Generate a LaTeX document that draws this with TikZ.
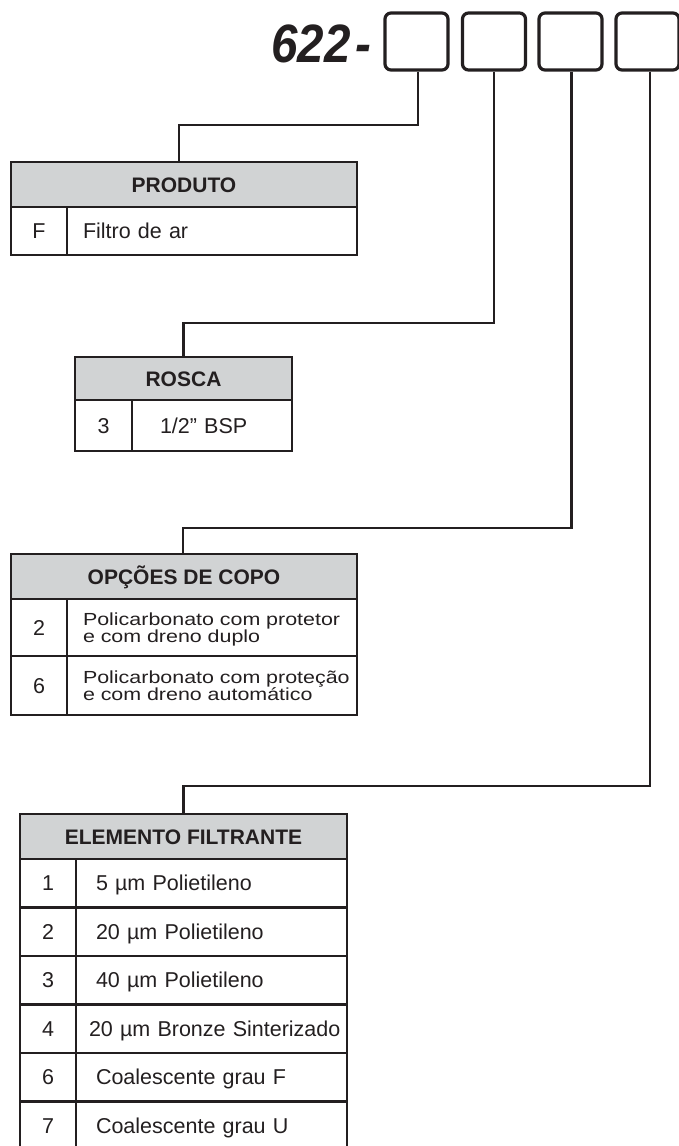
\documentclass[tikz,border=0pt]{standalone}
\usepackage{fontspec}
\setmainfont{Liberation Sans}
\newfontfamily\stretchfont[FakeStretch=1.225]{Liberation Sans}
\newfontfamily\codefont[FakeStretch=0.88]{Liberation Sans}
\definecolor{ink}{HTML}{231F20}
\definecolor{hdrgrey}{HTML}{D1D3D4}
\tikzset{
  tbl/.style={draw=ink, line width=2.6pt, rectangle, inner sep=0pt, outer sep=0pt, anchor=north west,
    text=ink, font=\fontsize{21.5}{24}\selectfont, text height=15.4pt, text depth=0pt},
  hdr/.style={tbl, fill=hdrgrey, font=\bfseries\fontsize{21}{24}\selectfont, text height=15pt},
  valcell/.style={tbl, align=left},
  twoline/.style={valcell, font=\stretchfont\fontsize{17.5}{17.5}\selectfont, text height=12.5pt, text depth=17.5pt},
  codebox/.style={draw=ink, line width=3.2pt, rounded corners=6pt, minimum width=63pt,
    minimum height=57pt, inner sep=0pt},
  link/.style={draw=ink, line width=2.2pt},
}
\begin{document}
\begin{tikzpicture}[x=1pt,y=-1pt]
\useasboundingbox (0,0) rectangle (678,1146);

% header code
\node[anchor=base west, inner sep=0pt, text=ink,
  font=\codefont\bfseries\itshape\fontsize{54}{60}\selectfont] (code) at (271,62) {622\kern5pt-};
\node[codebox] (b1) at (416.5,41.5) {};
\node[codebox] (b2) at (494,41.5) {};
\node[codebox] (b3) at (570.5,41.5) {};
\node[codebox] (b4) at (647.5,41.5) {};

% PRODUTO
\node[hdr, minimum width=346pt, minimum height=45pt] (pH) at (11,162) {PRODUTO};
\node[tbl, minimum width=56pt, minimum height=48pt] (pK1) at (pH.south west) {F};
\node[valcell, minimum width=290pt, minimum height=48pt, inner xsep=16pt, text width=258pt] (pV1) at (pK1.north east) {Filtro de ar};

% ROSCA
\node[hdr, minimum width=217pt, minimum height=43pt] (rH) at (75,357) {ROSCA};
\node[tbl, minimum width=57pt, minimum height=51pt] (rK1) at (rH.south west) {3};
\node[valcell, minimum width=160pt, minimum height=51pt, inner xsep=28pt, text width=104pt] (rV1) at (rK1.north east) {1/2” BSP};

% OPCOES DE COPO
\node[hdr, minimum width=346pt, minimum height=45pt] (oH) at (11,554) {OPÇÕES DE COPO};
\node[tbl, minimum width=56pt, minimum height=57pt] (oK1) at (oH.south west) {2};
\node[twoline, minimum width=290pt, minimum height=57pt, inner xsep=16pt, text width=258pt] (oV1) at (oK1.north east)
  {\mbox{Policarbonato com protetor}\\\mbox{e com dreno duplo}};
\node[tbl, minimum width=56pt, minimum height=59pt] (oK2) at (oK1.south west) {6};
\node[twoline, minimum width=290pt, minimum height=59pt, inner xsep=16pt, text width=258pt] (oV2) at (oK2.north east)
  {\mbox{Policarbonato com proteção}\\\mbox{e com dreno automático}};

% ELEMENTO FILTRANTE
\node[hdr, minimum width=327pt, minimum height=45pt] (eH) at (20,814) {ELEMENTO FILTRANTE};
\node[tbl, minimum width=56pt, minimum height=48.5pt] (eK1) at (eH.south west) {1};
\node[valcell, minimum width=271pt, minimum height=48.5pt, inner xsep=20pt, text width=231pt] (eV1) at (eK1.north east) {\mbox{5 µm Polietileno}};
\node[tbl, minimum width=56pt, minimum height=48.5pt] (eK2) at (eK1.south west) {2};
\node[valcell, minimum width=271pt, minimum height=48.5pt, inner xsep=20pt, text width=231pt] (eV2) at (eK2.north east) {\mbox{20 µm Polietileno}};
\node[tbl, minimum width=56pt, minimum height=48.5pt] (eK3) at (eK2.south west) {3};
\node[valcell, minimum width=271pt, minimum height=48.5pt, inner xsep=20pt, text width=231pt] (eV3) at (eK3.north east) {\mbox{40 µm Polietileno}};
\node[tbl, minimum width=56pt, minimum height=48.5pt] (eK4) at (eK3.south west) {4};
\node[valcell, minimum width=271pt, minimum height=48.5pt, inner xsep=13pt, text width=245pt] (eV4) at (eK4.north east) {\mbox{20 µm Bronze Sinterizado}};
\node[tbl, minimum width=56pt, minimum height=48.5pt] (eK5) at (eK4.south west) {6};
\node[valcell, minimum width=271pt, minimum height=48.5pt, inner xsep=20pt, text width=231pt] (eV5) at (eK5.north east) {\mbox{Coalescente grau F}};
\node[tbl, minimum width=56pt, minimum height=48.5pt] (eK6) at (eK5.south west) {7};
\node[valcell, minimum width=271pt, minimum height=48.5pt, inner xsep=20pt, text width=231pt] (eV6) at (eK6.north east) {\mbox{Coalescente grau U}};

% connectors
\draw[link] ([xshift=1.5pt]b1.south) -- ([xshift=1.5pt]b1.south |- 0,125) -| ([xshift=-5pt]pH.north);
\draw[link] (b2.south) -- (b2.south |- 0,323) -| (rH.north);
\draw[link] ([xshift=1pt]b3.south) -- ([xshift=1pt]b3.south |- 0,528) -| ([xshift=-1pt]oH.north);
\draw[link] ([xshift=2.5pt]b4.south) -- ([xshift=2.5pt]b4.south |- 0,786) -| (eH.north);
\end{tikzpicture}
\end{document}
